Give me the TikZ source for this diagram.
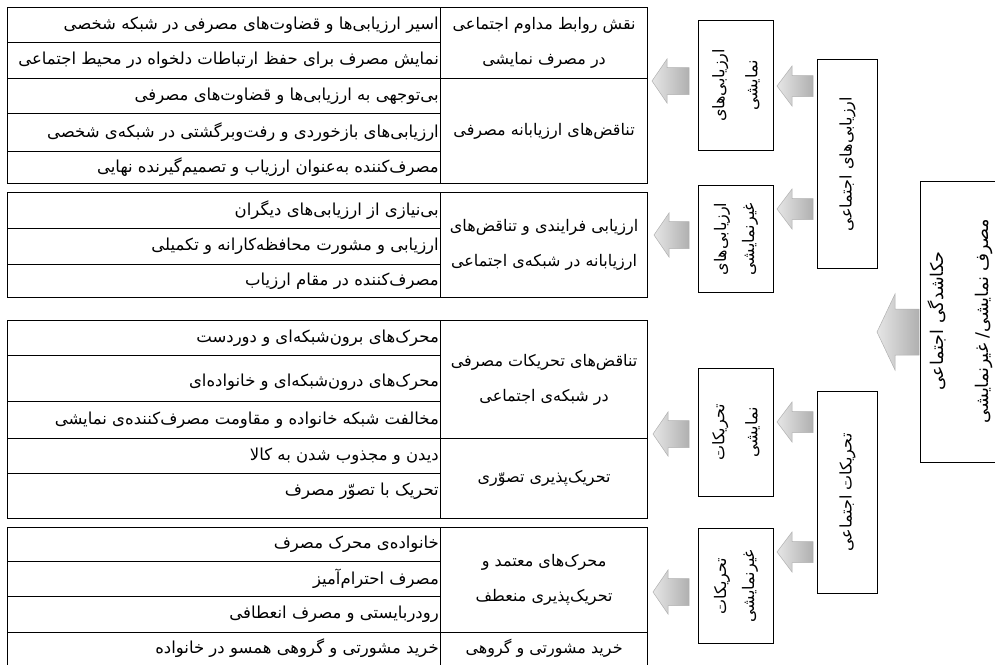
\documentclass[tikz,border=0pt]{standalone}
\usepackage{fontspec}
\TeXXeTstate=1
\newfontfamily\fafont[Script=Arabic]{DejaVu Sans}
\newcommand\prs[1]{\beginR #1\endR}
\newcommand\zw{^^^^200c}
\newcommand\barrow[6]{% tipx, rightx, cy, headhalf, shafthalf, headlen
  \shadedraw[arr] (#1,#3) -- ({#1+#6},{#3-#4}) -- ({#1+#6},{#3-#5}) -- (#2,{#3-#5})
    -- (#2,{#3+#5}) -- ({#1+#6},{#3+#5}) -- ({#1+#6},{#3+#4}) -- cycle;}
\tikzset{
  cellbox/.style={draw, line width=1pt, anchor=north west, inner sep=0pt, minimum width=433pt},
  catbox/.style={draw, line width=1.2pt, anchor=north west, inner sep=0pt, minimum width=207pt},
  itemtxt/.style={anchor=east, inner sep=0pt, font=\fafont\fontsize{16.5}{18}\selectfont},
  cattxt/.style={align=center, inner sep=0pt, font=\fafont\fontsize{16}{35}\selectfont},
  vbox/.style={draw, line width=1pt, anchor=north west, inner sep=0pt},
  vtxt/.style={rotate=90, align=center, inner sep=0pt, font=\fafont\fontsize{16}{33}\selectfont},
  arr/.style={left color=gray!20, right color=gray!62, draw=gray!62, line width=0.5pt}
}
\begin{document}
\begin{tikzpicture}[x=1pt, y=-1pt]
\useasboundingbox (0,0) rectangle (995,664);
% ---------- group 1 ----------
\node[cellbox, minimum height=35pt] (g1r1) at (7,7) {};
\node[cellbox, minimum height=36pt] (g1r2) at (7,42) {};
\node[cellbox, minimum height=35pt] (g1r3) at (7,78) {};
\node[cellbox, minimum height=38pt] (g1r4) at (7,113) {};
\node[cellbox, minimum height=32pt] (g1r5) at (7,151) {};
\node[catbox, minimum height=71pt] (g1c1) at (440,7) {};
\node[catbox, minimum height=105pt] (g1c2) at (440,78) {};
\node[itemtxt] (t1r1) at ([xshift=-2pt]g1r1.east) {\prs{اسیر ارزیابی\zw ها و قضاوت\zw های مصرفی در شبکه شخصی}};
\node[itemtxt] (t1r2) at ([xshift=-2pt]g1r2.east) {\prs{نمایش مصرف برای حفظ ارتباطات دلخواه در محیط اجتماعی}};
\node[itemtxt] (t1r3) at ([xshift=-2pt]g1r3.east) {\prs{بی\zw توجهی به ارزیابی\zw ها و قضاوت\zw های مصرفی}};
\node[itemtxt] (t1r4) at ([xshift=-2pt]g1r4.east) {\prs{ارزیابی\zw های بازخوردی و رفت\zw وبرگشتی در شبکه\zw ی شخصی}};
\node[itemtxt] (t1r5) at ([xshift=-2pt]g1r5.east) {\prs{مصرف\zw کننده به\zw عنوان ارزیاب و تصمیم\zw گیرنده نهایی}};
\node[cattxt] (t1c1) at (g1c1.center) {\prs{نقش روابط مداوم اجتماعی}\\\prs{در مصرف نمایشی}};
\node[cattxt] (t1c2) at (g1c2.center) {\prs{تناقض\zw های ارزیابانه مصرفی}};
% ---------- group 2 ----------
\node[cellbox, minimum height=36pt] (g2r1) at (7,192) {};
\node[cellbox, minimum height=36pt] (g2r2) at (7,228) {};
\node[cellbox, minimum height=33pt] (g2r3) at (7,264) {};
\node[catbox, minimum height=105pt] (g2c1) at (440,192) {};
\node[itemtxt] (t2r1) at ([xshift=-2pt]g2r1.east) {\prs{بی\zw نیازی از ارزیابی\zw های دیگران}};
\node[itemtxt] (t2r2) at ([xshift=-2pt]g2r2.east) {\prs{ارزیابی و مشورت محافظه\zw کارانه و تکمیلی}};
\node[itemtxt] (t2r3) at ([xshift=-2pt]g2r3.east) {\prs{مصرف\zw کننده در مقام ارزیاب}};
\node[cattxt] (t2c1) at (g2c1.center) {\prs{ارزیابی فرایندی و تناقض\zw های}\\\prs{ارزیابانه در شبکه\zw ی اجتماعی}};
% ---------- group 3 ----------
\node[cellbox, minimum height=35pt] (g3r1) at (7,320) {};
\node[cellbox, minimum height=46pt] (g3r2) at (7,355) {};
\node[cellbox, minimum height=37pt] (g3r3) at (7,401) {};
\node[cellbox, minimum height=35pt] (g3r4) at (7,438) {};
\node[cellbox, minimum height=45pt] (g3r5) at (7,473) {};
\node[catbox, minimum height=118pt] (g3c1) at (440,320) {};
\node[catbox, minimum height=80pt] (g3c2) at (440,438) {};
\node[itemtxt] (t3r1) at ([xshift=-2pt]g3r1.east) {\prs{محرک\zw های برون\zw شبکه\zw ای و دوردست}};
\node[itemtxt] (t3r2) at ([xshift=-2pt,yshift=-4pt]g3r2.east) {\prs{محرک\zw های درون\zw شبکه\zw ای و خانواده\zw ای}};
\node[itemtxt] (t3r3) at ([xshift=-2pt]g3r3.east) {\prs{مخالفت شبکه خانواده و مقاومت مصرف\zw کننده\zw ی نمایشی}};
\node[itemtxt] (t3r4) at ([xshift=-2pt]g3r4.east) {\prs{دیدن و مجذوب شدن به کالا}};
\node[itemtxt] (t3r5) at ([xshift=-2pt,yshift=5pt]g3r5.east) {\prs{تحریک با تصوّر مصرف}};
\node[cattxt] (t3c1) at (g3c1.center) {\prs{تناقض\zw های تحریکات مصرفی}\\\prs{در شبکه\zw ی اجتماعی}};
\node[cattxt] (t3c2) at (g3c2.center) {\prs{تحریک\zw پذیری تصوّری}};
% ---------- group 4 ----------
\node[cellbox, minimum height=34pt] (g4r1) at (7,527) {};
\node[cellbox, minimum height=35pt] (g4r2) at (7,561) {};
\node[cellbox, minimum height=36pt] (g4r3) at (7,596) {};
\node[cellbox, minimum height=40pt] (g4r4) at (7,632) {};
\node[catbox, minimum height=105pt] (g4c1) at (440,527) {};
\node[catbox, minimum height=40pt] (g4c2) at (440,632) {};
\node[itemtxt] (t4r1) at ([xshift=-2pt]g4r1.east) {\prs{خانواده\zw ی محرک مصرف}};
\node[itemtxt] (t4r2) at ([xshift=-2pt]g4r2.east) {\prs{مصرف احترام\zw آمیز}};
\node[itemtxt] (t4r3) at ([xshift=-2pt]g4r3.east) {\prs{رودربایستی و مصرف انعطافی}};
\node[itemtxt] (t4r4) at ([xshift=-2pt,yshift=4pt]g4r4.east) {\prs{خرید مشورتی و گروهی همسو در خانواده}};
\node[cattxt] (t4c1) at (g4c1.center) {\prs{محرک\zw های معتمد و}\\\prs{تحریک\zw پذیری منعطف}};
\node[cattxt] (t4c2) at ([yshift=4pt]g4c2.center) {\prs{خرید مشورتی و گروهی}};
% ---------- hierarchy boxes ----------
\node[vbox, minimum width=75pt, minimum height=130pt] (bnv) at (698,20) {};
\node[vbox, minimum width=75pt, minimum height=107pt] (bngv) at (698,185) {};
\node[vbox, minimum width=60pt, minimum height=209pt] (bev) at (817,59) {};
\node[vbox, minimum width=90pt, minimum height=281pt] (bmain) at (920,181) {};
\node[vbox, minimum width=75pt, minimum height=128pt] (bnt) at (698,368) {};
\node[vbox, minimum width=75pt, minimum height=115pt] (bngt) at (698,528) {};
\node[vbox, minimum width=60pt, minimum height=202pt] (bet) at (817,391) {};
\node[vtxt] (tnv) at (bnv.center) {\prs{ارزیابی\zw های}\\\prs{نمایشی}};
\node[vtxt, font=\fafont\fontsize{16}{28}\selectfont] (tngv) at (bngv.center) {\prs{ارزیابی\zw های}\\\prs{غیرنمایشی}};
\node[vtxt] (tev) at (bev.center) {\prs{ارزیابی\zw های اجتماعی}};
\node[vtxt, font=\fafont\fontsize{17.5}{45}\selectfont] (tmain) at (960.5,321) {\prs{حکاشدگی اجتماعی}\\\prs{مصرف نمایشی/ غیرنمایشی}};
\node[vtxt] (tnt) at (bnt.center) {\prs{تحریکات}\\\prs{نمایشی}};
\node[vtxt, font=\fafont\fontsize{16}{28}\selectfont] (tngt) at (bngt.center) {\prs{تحریکات}\\\prs{غیرنمایشی}};
\node[vtxt] (tet) at (bet.center) {\prs{تحریکات اجتماعی}};
% ---------- block arrows ----------
\barrow{652}{689}{81}{22}{13.5}{15}
\barrow{777}{813}{86}{20}{10.5}{15}
\barrow{654}{689}{235}{22}{13.5}{15}
\barrow{777}{813}{209}{20}{10.5}{15}
\barrow{877}{919}{332}{38}{23}{18}
\barrow{653}{689}{434}{22}{13.5}{15}
\barrow{777}{813}{422}{20}{10.5}{15}
\barrow{653}{689}{592}{22}{13.5}{15}
\barrow{777}{813}{552}{20}{10.5}{15}
\end{tikzpicture}
\end{document}
